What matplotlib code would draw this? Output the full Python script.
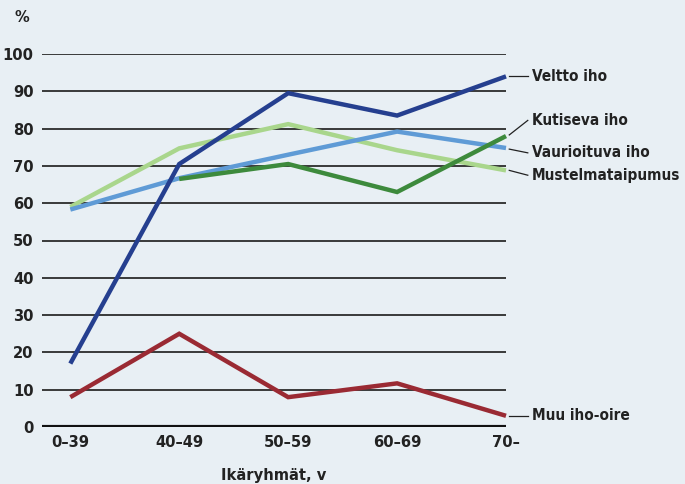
import matplotlib.pyplot as plt
from matplotlib import font_manager

# Ikäryhmät ja oireiden osuudet (%)
age_groups = ["0–39", "40–49", "50–59", "60–69", "70–"]
veltto = [17, 70.5, 89.5, 83.5, 94]
kutiseva = [None, 66.5, 70.5, 63, 78]
vaurioituva = [58.3, 66.7, 73, 79.2, 74.8]
mustelma = [59, 74.7, 81.2, 74.2, 68.8]
muu = [8, 25, 8, 11.7, 3]

series_names = ["Veltto iho", "Kutiseva iho", "Vaurioituva iho", "Mustelmataipumus", "Muu iho-oire"]
series_values = [veltto, kutiseva, vaurioituva, mustelma, muu]
colors = ["#253f8f", "#3d8a3c", "#5f9bd6", "#a9d68c", "#9a2a33"]
# selitteiden paikka ja viivan suunta (y-arvoina)
label_y = [94, 82.2, 73.5, 67.5, 3]
label_start = [94, 78.3, 74.5, 68.8, 3]

BG = "#e8eff4"
INK = "#222222"

# kapea lihavoitu fontti, jos sellainen löytyy
names = {f.name for f in font_manager.fontManager.ttflist}
narrow = [n for n in ["Liberation Sans Narrow", "DejaVu Sans Condensed"] if n in names]
plt.rcParams['font.family'] = narrow + ['DejaVu Sans']
FS = 11.8
txt = dict(fontsize=FS, fontweight="bold", fontstretch="condensed", color=INK)

fig = plt.figure(figsize=(6.85, 4.84), dpi=100, facecolor=BG)
ax = fig.add_axes([42 / 685, 1 - 427 / 484, 464 / 685, 373 / 484])
ax.set_facecolor(BG)

xs = list(range(len(age_groups)))
for y in range(10, 101, 10):
    ax.axhline(y, color="#2b2b2b", lw=1.3, zorder=1)
ax.axhline(0, color="#111111", lw=3, zorder=4)

# piirtojärjestys: vaaleat viivat alle
order = [3, 2, 1, 0, 4]
for i in order:
    pts = [(x, v) for x, v in zip(xs, series_values[i]) if v is not None]
    ax.plot([p[0] for p in pts], [p[1] for p in pts], color=colors[i], lw=3.2,
            solid_capstyle="butt", solid_joinstyle="miter", zorder=3, clip_on=False)

for name, ly, ls in zip(series_names, label_y, label_start):
    ax.plot([4.03, 4.2], [ls, ly], color=INK, lw=0.9, clip_on=False)
    ax.text(4.235, ly, name, va="center", ha="left", clip_on=False,
            **{**txt, "fontsize": 11})

ax.set_xlim(-0.26, 4)
ax.set_ylim(0, 100)
ax.set_yticks(range(0, 101, 10))
ax.set_xticks(xs)
ax.set_xticklabels(age_groups)
for s in ax.spines.values():
    s.set_visible(False)
ax.tick_params(length=0, labelsize=FS, colors=INK, pad=6)
for lbl in ax.get_xticklabels() + ax.get_yticklabels():
    lbl.set_fontweight("bold")
    lbl.set_fontstretch("condensed")
ax.set_xlabel("Ikäryhmät, v", labelpad=13, **txt)
fig.text(22 / 685, 1 - 18 / 484, "%", ha="center", va="center", **txt)

fig.savefig("out.png", dpi=100, facecolor=BG)
